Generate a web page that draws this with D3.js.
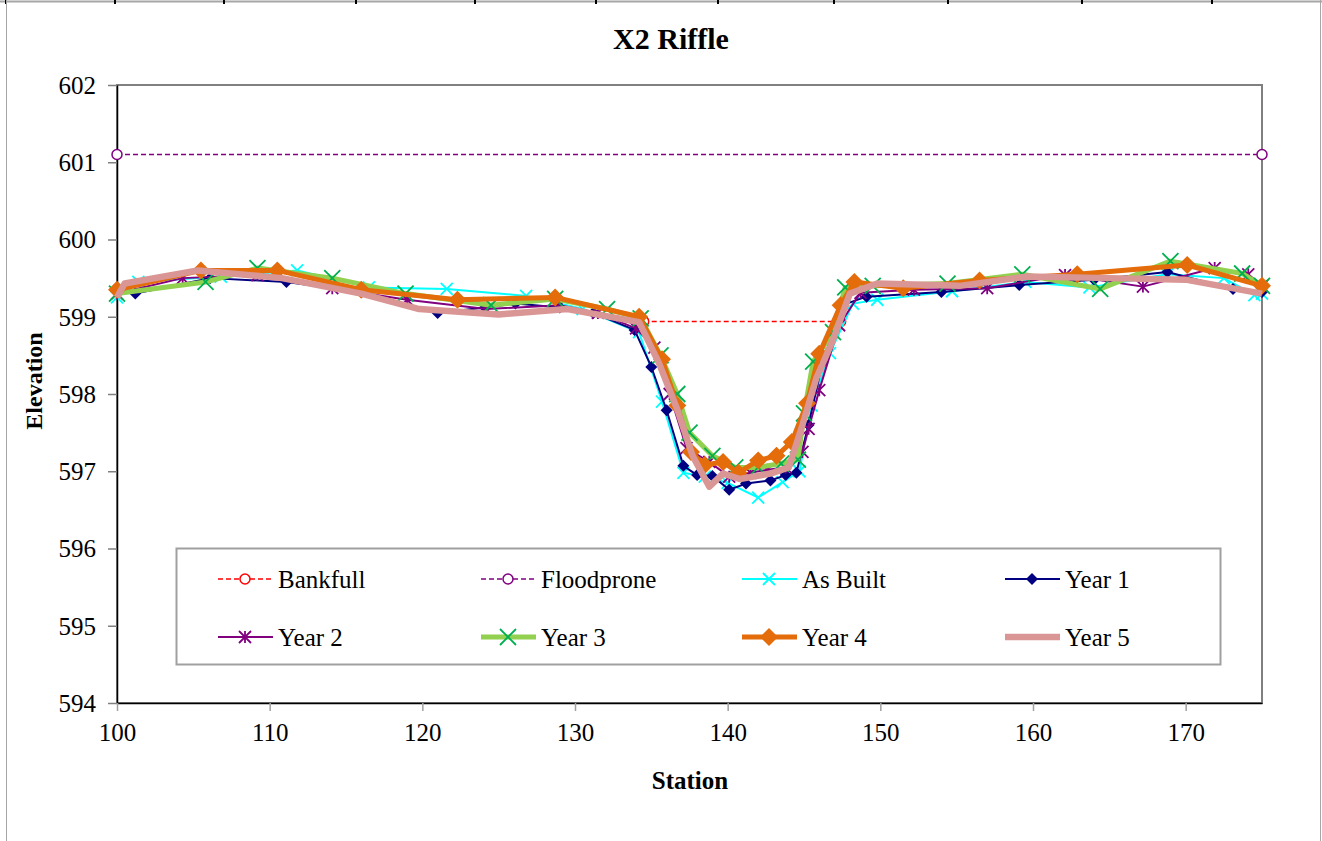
<!DOCTYPE html>
<html><head><meta charset="utf-8">
<script src="https://cdn.jsdelivr.net/npm/d3@7"></script>
<style>body{margin:0;background:#fff}svg{display:block}</style>
</head><body>
<script>
const chartTitle = "X2 Riffle";
const xTicks = [100,110,120,130,140,150,160,170];
const yTicks = [594,595,596,597,598,599,600,601,602];
const bankfull = [[134.5,598.94],[147.4,598.94]];
const floodprone = [[100,601.1],[175,601.1]];
const asBuilt = [[100,599.25],[101.4,599.45],[106.8,599.52],[111.8,599.6],[116.5,599.38],[121.6,599.36],[126.8,599.27],[130.5,599.1],[134.2,598.8],[135.7,597.9],[137.1,596.98],[138.5,596.93],[140,596.85],[142,596.66],[143.6,596.86],[144.7,597.0],[145.5,597.85],[146.7,598.53],[148.2,599.17],[149.8,599.22],[154.7,599.33],[159.5,599.45],[163.7,599.38],[168.8,599.55],[172.5,599.5],[174.5,599.28],[175,599.3]];
const year1 = [[100,599.32],[101.2,599.3],[106.1,599.5],[111.1,599.45],[116,599.32],[121,599.05],[124.1,599.12],[126.1,599.17],[129,599.12],[131.2,599.05],[133.9,598.83],[135,598.35],[136,597.79],[137.1,597.07],[138,596.95],[139,596.94],[140.1,596.76],[141.2,596.84],[142.8,596.88],[143.8,596.95],[144.5,596.98],[145.3,597.6],[146.2,598.4],[147.5,599.15],[149.1,599.26],[154,599.32],[159.1,599.41],[164,599.48],[168.8,599.58],[173.1,599.36],[175,599.32]];
const year2 = [[100,599.3],[104.3,599.5],[109.2,599.54],[114.1,599.37],[119,599.22],[124.2,599.1],[129,599.15],[131.5,599.05],[134,598.85],[135.2,598.6],[136.2,598.0],[137.3,597.3],[138.8,597.12],[140.1,596.93],[141.5,596.98],[142.6,597.02],[143.8,597.05],[144.9,597.25],[145.3,597.55],[146,598.05],[147.3,598.89],[148.7,599.31],[152.2,599.35],[157,599.37],[162.1,599.54],[167.2,599.39],[171.9,599.63],[174.1,599.55],[175,599.4]];
const year3 = [[100,599.3],[105.8,599.45],[109.2,599.63],[114.1,599.5],[118.9,599.3],[124.5,599.15],[128.7,599.23],[132.1,599.1],[134.3,598.98],[135.6,598.5],[136.7,598.0],[137.5,597.5],[139,597.2],[140.5,597.05],[142,597.05],[143.5,597.1],[144.6,597.15],[145,597.75],[145.6,598.42],[146.9,598.8],[147.7,599.38],[149.5,599.4],[154.4,599.43],[159.3,599.55],[164.4,599.36],[169,599.72],[173.7,599.56],[175,599.4]];
const year4 = [[100,599.35],[105.5,599.6],[110.5,599.6],[116,599.35],[122.3,599.22],[128.7,599.25],[134.2,599.0],[135.7,598.45],[136.7,597.85],[137.6,597.25],[138.5,597.08],[139.7,597.12],[140.7,596.98],[142,597.14],[143.2,597.2],[144.2,597.38],[145.2,597.88],[146,598.52],[147.4,599.15],[148.3,599.45],[151.5,599.37],[156.5,599.47],[162.9,599.55],[170.1,599.67],[175,599.4]];
const year5 = [[100,599.25],[100.5,599.43],[105.3,599.6],[110.8,599.5],[116,599.3],[119.8,599.1],[125,599.03],[129.5,599.1],[134.2,598.93],[135.5,598.4],[136.7,597.8],[137.7,597.2],[138.8,596.8],[139.7,596.97],[140.8,596.9],[142.8,596.97],[144,597.05],[144.9,597.6],[145.8,598.2],[146.9,598.7],[148,599.3],[149.8,599.43],[155.2,599.4],[159.6,599.52],[165,599.5],[170,599.48],[175,599.3]];
const seriesNames = ["Bankfull","Floodprone","As Built","Year 1","Year 2","Year 3","Year 4","Year 5"];
const sheetTicks = [6,115,224,356,475,596,718,834,948,1082,1212];

const W=1322,H=841;
const svg=d3.select("body").append("svg").attr("width",W).attr("height",H);
const font="'Liberation Serif','Times New Roman',serif";
const x=d3.scaleLinear().domain([100,175]).range([117,1262]);
const y=d3.scaleLinear().domain([594,602]).range([703,85]);

// sheet frame
svg.append("line").attr("x1",0).attr("x2",W).attr("y1",1.5).attr("y2",1.5).attr("stroke","#a6a6a6").attr("stroke-width",2);
svg.selectAll(".st").data(sheetTicks).enter().append("rect").attr("x",d=>d-1).attr("y",0).attr("width",2).attr("height",4).attr("fill","#000");
svg.append("line").attr("x1",6.5).attr("x2",6.5).attr("y1",0).attr("y2",H).attr("stroke","#a6a6a6");
svg.append("line").attr("x1",1320.5).attr("x2",1320.5).attr("y1",0).attr("y2",H).attr("stroke","#a6a6a6");

svg.append("text").attr("x",671).attr("y",49).attr("text-anchor","middle").attr("font-family",font).attr("font-weight","bold").attr("font-size",30).text(chartTitle);

// plot area border
svg.append("rect").attr("x",117).attr("y",85).attr("width",1262-117).attr("height",703-85).attr("fill","none").attr("stroke","#808080").attr("stroke-width",2);

const yAxis=svg.append("g").attr("transform","translate(117,0)").call(d3.axisLeft(y).tickValues(yTicks).tickSize(9).tickSizeOuter(0).tickFormat(d3.format("d")));
yAxis.select(".domain").attr("stroke","#000").attr("stroke-width",1.5);
yAxis.selectAll(".tick line").attr("stroke","#808080").attr("stroke-width",1.5);
yAxis.selectAll("text").attr("font-family",font).attr("font-size",25).attr("fill","#000").attr("x",-21).attr("dy","0.33em");

const xAxis=svg.append("g").attr("transform","translate(0,703)").call(d3.axisBottom(x).tickValues(xTicks).tickSize(8).tickSizeOuter(0).tickFormat(d3.format("d")));
xAxis.select(".domain").attr("stroke","#000").attr("stroke-width",1.5);
xAxis.selectAll(".tick line").attr("stroke","#a0a0a0").attr("stroke-width",1.5);
xAxis.selectAll("text").attr("font-family",font).attr("font-size",25).attr("fill","#000").attr("y",20);

svg.append("text").attr("x",690).attr("y",789).attr("text-anchor","middle").attr("font-family",font).attr("font-weight","bold").attr("font-size",25).text("Station");
svg.append("text").attr("transform","translate(42,381) rotate(-90)").attr("text-anchor","middle").attr("font-family",font).attr("font-weight","bold").attr("font-size",24).text("Elevation");

const line=d3.line().x(d=>x(d[0])).y(d=>y(d[1]));
const g=svg.append("g");

const styles=[
 {data:bankfull,color:"#ff0000",w:1.5,dash:"5,3",marker:"circle",mcolor:"#ff0000",ms:5},
 {data:floodprone,color:"#800080",w:1.5,dash:"5,3",marker:"circle",mcolor:"#800080",ms:5},
 {data:asBuilt,color:"#00ffff",w:2,marker:"x",mcolor:"#00ffff",ms:6},
 {data:year1,color:"#000080",w:2,marker:"diamond",mcolor:"#000080",ms:6},
 {data:year2,color:"#800080",w:2,marker:"star",mcolor:"#800080",ms:6},
 {data:year3,color:"#92d050",w:5,marker:"x",mcolor:"#00b050",ms:8},
 {data:year4,color:"#e46c0a",w:5,marker:"diamond",mcolor:"#e46c0a",ms:9},
 {data:year5,color:"#d99694",w:6.5,marker:null}
];

function drawMarker(sel,type,col,s){
  if(type==="circle"){sel.append("circle").attr("r",s).attr("fill","#fff").attr("stroke",col).attr("stroke-width",1.5);}
  else if(type==="x"){sel.append("path").attr("d",`M${-s},${-s}L${s},${s}M${-s},${s}L${s},${-s}`).attr("stroke",col).attr("stroke-width",1.8).attr("fill","none");}
  else if(type==="diamond"){sel.append("path").attr("d",`M0,${-s}L${s},0L0,${s}L${-s},0Z`).attr("fill",col);}
  else if(type==="star"){sel.append("path").attr("d",`M${-s},${-s}L${s},${s}M${-s},${s}L${s},${-s}M0,${-s}L0,${s}`).attr("stroke",col).attr("stroke-width",1.8).attr("fill","none");}
}

styles.forEach(st=>{
  g.append("path").datum(st.data).attr("d",line).attr("fill","none").attr("stroke",st.color).attr("stroke-width",st.w).attr("stroke-dasharray",st.dash||null).attr("stroke-linejoin","round");
  if(st.marker){
    st.data.forEach(d=>{const m=g.append("g").attr("transform",`translate(${x(d[0])},${y(d[1])})`);drawMarker(m,st.marker,st.mcolor,st.ms);});
  }
});

// legend
const lg=svg.append("g");
lg.append("rect").attr("x",176.5).attr("y",548.5).attr("width",1044).attr("height",116).attr("fill","#fff").attr("stroke","#a0a0a0").attr("stroke-width",2);
const colX=[218,481,742,1005], rowY=[579,637];
styles.forEach((st,i)=>{
  const cx=colX[i%4], cy=rowY[Math.floor(i/4)];
  const it=lg.append("g");
  it.append("line").attr("x1",cx).attr("x2",cx+55).attr("y1",cy).attr("y2",cy).attr("stroke",st.color).attr("stroke-width",st.w).attr("stroke-dasharray",st.dash||null);
  if(st.marker){const m=it.append("g").attr("transform",`translate(${cx+27},${cy})`);drawMarker(m,st.marker,st.mcolor,st.ms);}
  it.append("text").attr("x",cx+60).attr("y",cy).attr("dy","0.35em").attr("font-family",font).attr("font-size",25).text(seriesNames[i]);
});
</script>
</body></html>
